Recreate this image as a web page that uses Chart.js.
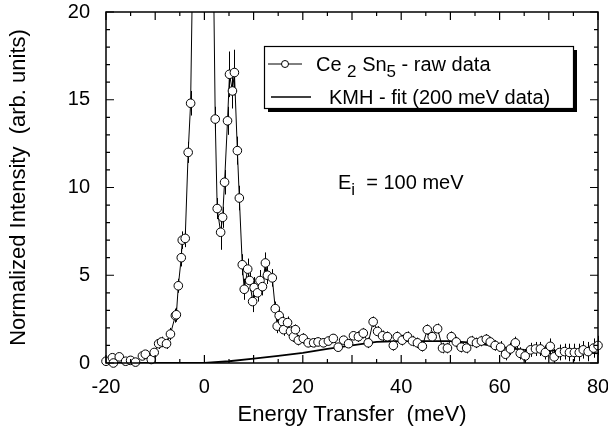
<!DOCTYPE html>
<html>
<head>
<meta charset="utf-8">
<script src="https://cdn.jsdelivr.net/npm/chart.js@4"></script>
<style>
  html, body { margin: 0; padding: 0; background: #fff; }
  #wrap { width: 608px; height: 439px; }
</style>
</head>
<body>
<div id="wrap"><canvas id="myChart" width="608" height="439"></canvas></div>
<script>
// raw data, Ei = 100 meV
const energy = [
  -20.0, -18.7, -18.5, -17.3, -16.0, -15.0, -14.0, -12.6, -12.0, -10.8,
  -10.2, -9.3, -8.7, -7.7, -6.9, -5.9, -5.7, -5.3, -4.7, -4.5,
  -3.9, -3.3, -2.8, -2.0, -0.5, 1.2, 2.2, 2.6, 3.3, 3.7,
  4.1, 4.7, 5.1, 5.7, 6.1, 6.7, 7.1, 7.7, 8.1, 8.8,
  9.2, 9.8, 10.1, 10.8, 11.3, 11.8, 12.4, 12.8, 13.8, 14.4,
  14.8, 15.2, 15.9, 16.1, 16.9, 17.5, 18.1, 18.5, 19.1, 20.1,
  21.1, 22.2, 23.1, 24.2, 25.2, 26.2, 27.2, 28.3, 29.3, 30.3,
  31.3, 32.3, 33.3, 34.3, 35.2, 36.2, 37.2, 38.4, 39.2, 40.2,
  41.3, 42.3, 43.3, 44.3, 45.3, 46.3, 47.4, 48.4, 49.4, 50.2,
  51.2, 52.2, 53.3, 54.3, 55.3, 56.3, 57.3, 58.1, 59.1, 60.2,
  61.2, 62.2, 63.2, 64.2, 65.2, 66.3, 67.3, 68.3, 69.3, 70.3,
  71.1, 72.2, 73.2, 74.2, 75.2, 76.2, 77.0, 78.0, 79.1, 80.0
];
const intensity = [
  0.1, 0.3, 0.0, 0.35, 0.1, 0.15, 0.05, 0.4, 0.5, 0.2,
  0.6, 1.1, 1.2, 1.1, 1.65, 2.7, 2.75, 4.4, 6.0, 7.0,
  7.1, 12.0, 14.8, 30, 55, 38, 13.9, 8.8, 7.45, 8.3,
  10.3, 13.8, 16.45, 15.5, 16.55, 12.1, 9.4, 5.6, 4.2, 5.35,
  4.7, 3.5, 4.3, 4.0, 4.7, 4.35, 5.7, 5.0, 4.85, 3.1,
  2.1, 2.7, 2.35, 1.9, 2.3, 1.8, 1.5, 1.9, 1.3, 1.4,
  1.15, 1.15, 1.2, 1.15, 1.25, 1.4, 0.9, 1.3, 1.1, 1.55,
  1.5, 1.7, 1.15, 2.35, 1.8, 1.55, 1.5, 1.0, 1.5, 1.3,
  1.5, 1.25, 1.15, 0.95, 1.9, 1.5, 1.95, 0.85, 0.85, 1.5,
  1.2, 0.9, 0.85, 1.25, 1.15, 1.25, 1.35, 1.2, 1.0, 0.9,
  0.5, 0.8, 1.15, 0.55, 0.4, 0.75, 0.8, 0.8, 0.6, 0.95,
  0.35, 0.6, 0.65, 0.6, 0.6, 0.6, 0.75, 0.65, 0.85, 1.0
];
const errorBar = [
  0.15, 0.15, 0.15, 0.15, 0.15, 0.15, 0.15, 0.15, 0.2, 0.2,
  0.2, 0.3, 0.3, 0.3, 0.35, 0.4, 0.4, 0.4, 0.5, 0.5,
  0.5, 0.6, 0.7, 0, 0, 0, 0.7, 0.6, 1.0, 0.6,
  0.7, 0.8, 1.3, 1.0, 1.3, 0.8, 0.7, 0.6, 0.6, 0.6,
  0.6, 0.6, 0.6, 0.5, 0.6, 0.5, 0.6, 0.5, 0.5, 0.4,
  0.4, 0.4, 0.35, 0.35, 0.35, 0.3, 0.3, 0.3, 0.3, 0.3,
  0.25, 0.25, 0.25, 0.25, 0.25, 0.25, 0.25, 0.25, 0.25, 0.25,
  0.3, 0.3, 0.3, 0.3, 0.3, 0.3, 0.3, 0.3, 0.3, 0.3,
  0.3, 0.3, 0.3, 0.3, 0.3, 0.3, 0.3, 0.3, 0.3, 0.3,
  0.3, 0.3, 0.3, 0.3, 0.3, 0.3, 0.3, 0.3, 0.3, 0.35,
  0.35, 0.35, 0.35, 0.35, 0.4, 0.4, 0.4, 0.4, 0.4, 0.45,
  0.45, 0.45, 0.45, 0.5, 0.5, 0.5, 0.5, 0.55, 0.55, 0.55
];

// KMH fit (200 meV data)
const fitEnergy = [-20, 0, 5, 10, 15, 20, 25, 30, 35, 40, 45, 50, 55, 60, 65, 70, 75, 80];
const fitIntensity = [0, 0, 0.1, 0.25, 0.4, 0.58, 0.8, 1.0, 1.2, 1.25, 1.25, 1.25, 1.15, 0.9, 0.75, 0.72, 0.65, 0.55];

const xTicks = [-20, 0, 20, 40, 60, 80];
const yTicks = [0, 5, 10, 15, 20];

const FONT = "'Liberation Sans', Arial, Helvetica, sans-serif";

// error bars, drawn under the circles
const errorBars = {
  id: "errorBars",
  beforeDatasetsDraw(chart) {
    const { ctx, chartArea, scales } = chart;
    ctx.save();
    ctx.beginPath();
    ctx.rect(chartArea.left - 6, chartArea.top, chartArea.right - chartArea.left + 12, chartArea.bottom - chartArea.top);
    ctx.clip();
    ctx.strokeStyle = "#000";
    ctx.lineWidth = 1;
    energy.forEach((e, i) => {
      if (!errorBar[i]) return;
      const x = Math.round(scales.x.getPixelForValue(e)) + 0.5;
      ctx.beginPath();
      ctx.moveTo(x, scales.y.getPixelForValue(intensity[i] - errorBar[i]));
      ctx.lineTo(x, scales.y.getPixelForValue(intensity[i] + errorBar[i]));
      ctx.stroke();
    });
    ctx.restore();
  },
};

// frame with inward ticks on all four sides
const frame = {
  id: "frame",
  afterDraw(chart) {
    const { ctx, chartArea: a, scales } = chart;
    ctx.save();
    ctx.strokeStyle = "#000";
    ctx.lineWidth = 1.5;
    ctx.strokeRect(a.left, a.top, a.right - a.left, a.bottom - a.top);
    ctx.lineWidth = 1.2;
    for (let v = -20; v <= 80; v += 5) {
      const x = scales.x.getPixelForValue(v);
      const len = v % 10 === 0 ? 8 : 4;
      ctx.beginPath();
      ctx.moveTo(x, a.bottom); ctx.lineTo(x, a.bottom - len);
      ctx.moveTo(x, a.top); ctx.lineTo(x, a.top + len);
      ctx.stroke();
    }
    for (let v = 0; v <= 20; v += 1) {
      const y = scales.y.getPixelForValue(v);
      const len = v % 5 === 0 ? 8 : 4;
      ctx.beginPath();
      ctx.moveTo(a.left, y); ctx.lineTo(a.left + len, y);
      ctx.moveTo(a.right, y); ctx.lineTo(a.right - len, y);
      ctx.stroke();
    }
    ctx.restore();
  },
};

// legend box with shadow and the Ei label
function subText(ctx, parts, x, y, size) {
  parts.forEach(([t, sub]) => {
    ctx.font = (sub ? size - 3 : size) + "px " + FONT;
    ctx.fillText(t, x, sub ? y + 6 : y);
    x += ctx.measureText(t).width;
  });
  return x;
}

const legendBox = {
  id: "legendBox",
  afterDraw(chart) {
    const { ctx } = chart;
    const L = 264, T = 46, W = 309, H = 62;
    ctx.save();
    ctx.fillStyle = "#000";
    ctx.fillRect(L + 4, T + 4, W, H);
    ctx.fillStyle = "#fff";
    ctx.fillRect(L, T, W, H);
    ctx.strokeStyle = "#000";
    ctx.lineWidth = 1.2;
    ctx.strokeRect(L + 0.5, T + 0.5, W, H);

    // raw data entry
    ctx.lineWidth = 1;
    ctx.beginPath();
    ctx.moveTo(268, 64); ctx.lineTo(302, 64);
    ctx.stroke();
    ctx.beginPath();
    ctx.arc(285, 64, 3.5, 0, Math.PI * 2);
    ctx.fill();
    ctx.stroke();
    ctx.fillStyle = "#000";
    ctx.textBaseline = "alphabetic";
    subText(ctx, [["Ce ", false], ["2", true], [" Sn", false], ["5", true], [" - raw data", false]], 316, 71, 20);

    // fit entry
    ctx.lineWidth = 1.5;
    ctx.beginPath();
    ctx.moveTo(271, 97); ctx.lineTo(311, 97);
    ctx.stroke();
    ctx.font = "20px " + FONT;
    ctx.fillText("KMH - fit (200 meV data)", 329, 104);

    subText(ctx, [["E", false], ["i", true], ["  = 100 meV", false]], 338, 189, 20);
    ctx.restore();
  },
};

const ctx = document.getElementById("myChart");

new Chart(ctx, {
  type: "scatter",
  data: {
    datasets: [
      {
        label: "Ce2 Sn5 - raw data",
        data: energy.map((e, i) => ({ x: e, y: intensity[i] })),
        showLine: true,
        borderColor: "#000",
        borderWidth: 1,
        pointRadius: 4.3,
        pointBorderWidth: 1,
        pointBackgroundColor: "#fff",
        pointBorderColor: "#000",
        clip: { left: 6, right: 6, top: 0, bottom: 6 },
        order: 1,
      },
      {
        label: "KMH - fit (200 meV data)",
        data: fitEnergy.map((e, i) => ({ x: e, y: fitIntensity[i] })),
        showLine: true,
        borderColor: "#000",
        borderWidth: 1.8,
        pointRadius: 0,
        order: 2,
      },
    ],
  },
  options: {
    responsive: false,
    animation: false,
    layout: { padding: { left: 0, right: 10, top: 12, bottom: 0 } },
    plugins: {
      legend: { display: false },
      tooltip: { enabled: false },
    },
    scales: {
      x: {
        type: "linear",
        min: -20,
        max: 80,
        afterBuildTicks: (s) => { s.ticks = xTicks.map((v) => ({ value: v })); },
        afterFit: (s) => { s.height = 76; s.paddingLeft = 0; s.paddingRight = 0; },
        grid: { display: false, drawTicks: false },
        border: { display: false },
        ticks: { color: "#000", padding: 12, font: { family: FONT, size: 20 }, maxRotation: 0 },
        title: {
          display: true,
          text: "Energy Transfer  (meV)",
          color: "#000",
          font: { family: FONT, size: 22 },
          padding: { top: 0, bottom: 11 },
        },
      },
      y: {
        type: "linear",
        min: 0,
        max: 20,
        afterBuildTicks: (s) => { s.ticks = yTicks.map((v) => ({ value: v })); },
        afterFit: (s) => { s.width = 106; s.paddingTop = 0; s.paddingBottom = 0; },
        grid: { display: false, drawTicks: false },
        border: { display: false },
        ticks: { color: "#000", padding: 16, font: { family: FONT, size: 20 } },
        title: {
          display: true,
          text: "Normalized Intensity  (arb. units)",
          color: "#000",
          font: { family: FONT, size: 22 },
          padding: { top: 6, bottom: 0 },
        },
      },
    },
  },
  plugins: [errorBars, frame, legendBox],
});
</script>
</body>
</html>
